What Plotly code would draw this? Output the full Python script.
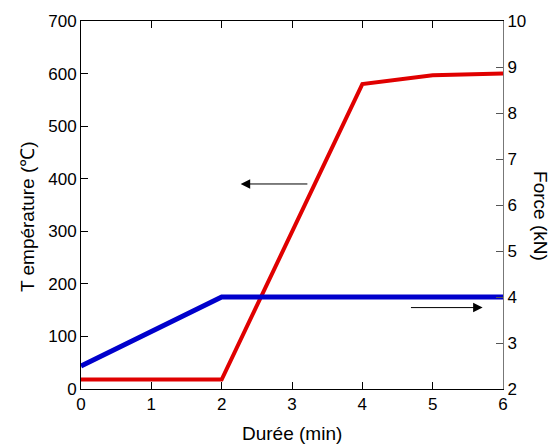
import plotly.graph_objects as go

# Data
duree_temp = [0, 2, 4, 5, 6]
temperature = [18, 18, 580, 597, 600]
duree_force = [0, 2, 6]
force = [2.5, 4.0, 4.0]

x_ticks = [0, 1, 2, 3, 4, 5, 6]
temp_ticks = [0, 100, 200, 300, 400, 500, 600, 700]
force_ticks = [2, 3, 4, 5, 6, 7, 8, 9, 10]

font = "Liberation Sans, Arial, Helvetica, sans-serif"

fig = go.Figure()
fig.add_trace(go.Scatter(x=duree_temp, y=temperature, mode="lines",
                         line=dict(color="#e00000", width=4), yaxis="y"))
fig.add_trace(go.Scatter(x=duree_force, y=force, mode="lines",
                         line=dict(color="#0000cc", width=5), yaxis="y2"))

axis_common = dict(ticks="inside", ticklen=7, tickwidth=1, showgrid=False,
                   zeroline=False, showline=True, linewidth=1,
                   tickfont=dict(family=font, size=17, color="black"))

fig.update_layout(
    width=553, height=446,
    margin=dict(l=81, r=50, t=18, b=57),
    plot_bgcolor="white", paper_bgcolor="white",
    showlegend=False,
    font=dict(family=font, color="black"),
    xaxis=dict(range=[0, 6], tickvals=x_ticks, mirror="ticks", linecolor="black",
               tickcolor="black", **axis_common),
    yaxis=dict(range=[0, 700], tickvals=temp_ticks, linecolor="black",
               tickcolor="black", **axis_common),
    yaxis2=dict(range=[2, 10], tickvals=force_ticks, overlaying="y", side="right",
                linecolor="#777777", tickcolor="#555555", **axis_common),
    annotations=[
        dict(text="T empérature (℃)", xref="paper", yref="paper", x=-0.128, y=0.47,
             xanchor="center", yanchor="middle",
             showarrow=False, textangle=-90, font=dict(family=font, size=19)),
        dict(text="Force (kN)", xref="paper", yref="paper", x=1.09, y=0.47,
             xanchor="center", yanchor="middle",
             showarrow=False, textangle=90, font=dict(family=font, size=19)),
        dict(text="Durée (min)", xref="paper", yref="paper", x=0.5, y=-0.12,
             xanchor="center", yanchor="middle",
             showarrow=False, font=dict(family=font, size=19)),
        dict(x=2.27, y=390, ax=3.24, ay=390, xref="x", yref="y", axref="x", ayref="y",
             showarrow=True, arrowhead=2, arrowsize=1.9, arrowwidth=1, arrowcolor="black", text=""),
        dict(x=5.71, y=3.77, ax=4.67, ay=3.77, xref="x", yref="y2", axref="x", ayref="y2",
             showarrow=True, arrowhead=2, arrowsize=1.9, arrowwidth=1, arrowcolor="black", text=""),
    ],
)

fig.write_html("out.html", config={"displayModeBar": False},
               post_script="document.body.style.margin='0';document.body.style.padding='0';")
